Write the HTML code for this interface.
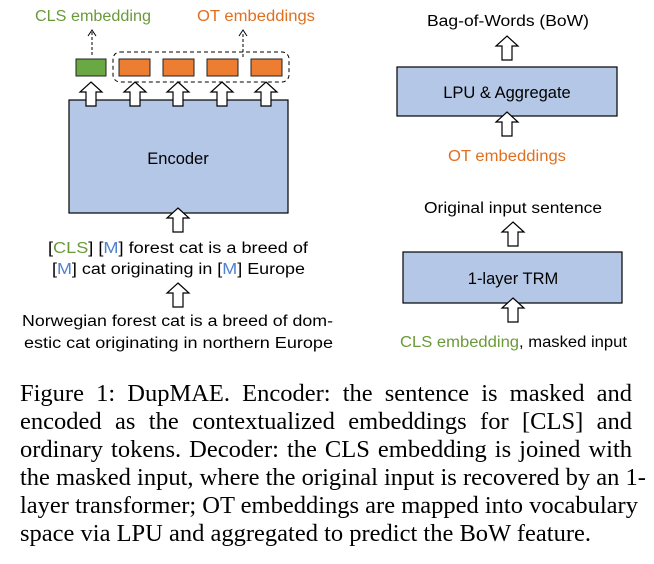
<!DOCTYPE html>
<html><head><meta charset="utf-8"><style>
html,body{margin:0;padding:0;background:#fff;width:654px;height:564px;overflow:hidden}
svg{position:absolute;left:0;top:0}
.cap{position:absolute;left:20px;top:380px;width:612px;font-family:"Liberation Serif",serif;font-size:24.5px;line-height:28px;color:#000}
.cap div{text-align:justify;text-align-last:justify;white-space:nowrap}
.cap div.l{text-align-last:left}
</style></head><body>
<svg width="654" height="564" viewBox="0 0 654 564" font-family="Liberation Sans, sans-serif" font-size="15.5">
<defs>
<path id="ha" d="M0,0 L11,10 L5,10 L5,24 L-5,24 L-5,10 L-11,10 Z" fill="#fff" stroke="#000" stroke-width="1.2"/>
</defs>
<text x="35" y="21" fill="#6a9a3a" textLength="116" lengthAdjust="spacingAndGlyphs">CLS embedding</text>
<text x="197" y="21" fill="#e0701f" textLength="118" lengthAdjust="spacingAndGlyphs">OT embeddings</text>
<line x1="92" y1="55" x2="92" y2="32" stroke="#000" stroke-dasharray="3,2"/>
<path d="M88,36 L92,30 L96,36" fill="none" stroke="#000"/>
<line x1="243" y1="57" x2="243" y2="32" stroke="#000" stroke-dasharray="3,2"/>
<path d="M239,36 L243,30 L247,36" fill="none" stroke="#000"/>
<rect x="113" y="52" width="176" height="30" rx="7" fill="none" stroke="#000" stroke-dasharray="4,3"/>
<rect x="76" y="59" width="30" height="17" fill="#6aa843" stroke="#222"/>
<rect x="119" y="59" width="31" height="17" fill="#ed7d31" stroke="#222"/>
<rect x="163" y="59" width="31" height="17" fill="#ed7d31" stroke="#222"/>
<rect x="207" y="59" width="31" height="17" fill="#ed7d31" stroke="#222"/>
<rect x="251" y="59" width="31" height="17" fill="#ed7d31" stroke="#222"/>
<rect x="69" y="100" width="219" height="113" fill="#b4c7e7" stroke="#000" stroke-width="1.2"/>
<text x="178" y="164" text-anchor="middle" font-size="16.5">Encoder</text>
<use href="#ha" x="91" y="82"/>
<use href="#ha" x="135" y="82"/>
<use href="#ha" x="178" y="82"/>
<use href="#ha" x="222" y="82"/>
<use href="#ha" x="266" y="82"/>
<use href="#ha" x="178" y="208"/>
<text x="48" y="253" textLength="260" lengthAdjust="spacingAndGlyphs">[<tspan fill="#6a9a3a">CLS</tspan>] [<tspan fill="#4f81d0">M</tspan>] forest cat is a breed of</text>
<text x="52" y="274" textLength="253" lengthAdjust="spacingAndGlyphs">[<tspan fill="#4f81d0">M</tspan>] cat originating in [<tspan fill="#4f81d0">M</tspan>] Europe</text>
<use href="#ha" x="178" y="283"/>
<text x="22" y="326" textLength="311" lengthAdjust="spacingAndGlyphs">Norwegian forest cat is a breed of dom-</text>
<text x="24" y="348" textLength="309" lengthAdjust="spacingAndGlyphs">estic cat originating in northern Europe</text>
<text x="427" y="26" textLength="162" lengthAdjust="spacingAndGlyphs">Bag-of-Words (BoW)</text>
<use href="#ha" x="507" y="36"/>
<rect x="397" y="67" width="220" height="49" fill="#b4c7e7" stroke="#000" stroke-width="1.2"/>
<text x="507" y="98" text-anchor="middle" font-size="16.5">LPU &amp; Aggregate</text>
<use href="#ha" x="507" y="112"/>
<text x="448" y="161" fill="#e0701f" textLength="118" lengthAdjust="spacingAndGlyphs">OT embeddings</text>
<text x="424" y="213" textLength="178" lengthAdjust="spacingAndGlyphs">Original input sentence</text>
<use href="#ha" x="513" y="222"/>
<rect x="403" y="252" width="219" height="51" fill="#b4c7e7" stroke="#000" stroke-width="1.2"/>
<text x="513" y="284" text-anchor="middle" font-size="16.5">1-layer TRM</text>
<use href="#ha" x="513" y="298"/>
<text x="400" y="347" textLength="227" lengthAdjust="spacingAndGlyphs"><tspan fill="#6a9a3a">CLS embedding</tspan>, masked input</text>
</svg>
<div class="cap">
<div>Figure 1: DupMAE. Encoder: the sentence is masked and</div>
<div>encoded as the contextualized embeddings for [CLS] and</div>
<div>ordinary tokens. Decoder: the CLS embedding is joined with</div>
<div>the masked input, where the original input is recovered by an 1-</div>
<div>layer transformer; OT embeddings are mapped into vocabulary</div>
<div class="l">space via LPU and aggregated to predict the BoW feature.</div>
</div>
</body></html>
